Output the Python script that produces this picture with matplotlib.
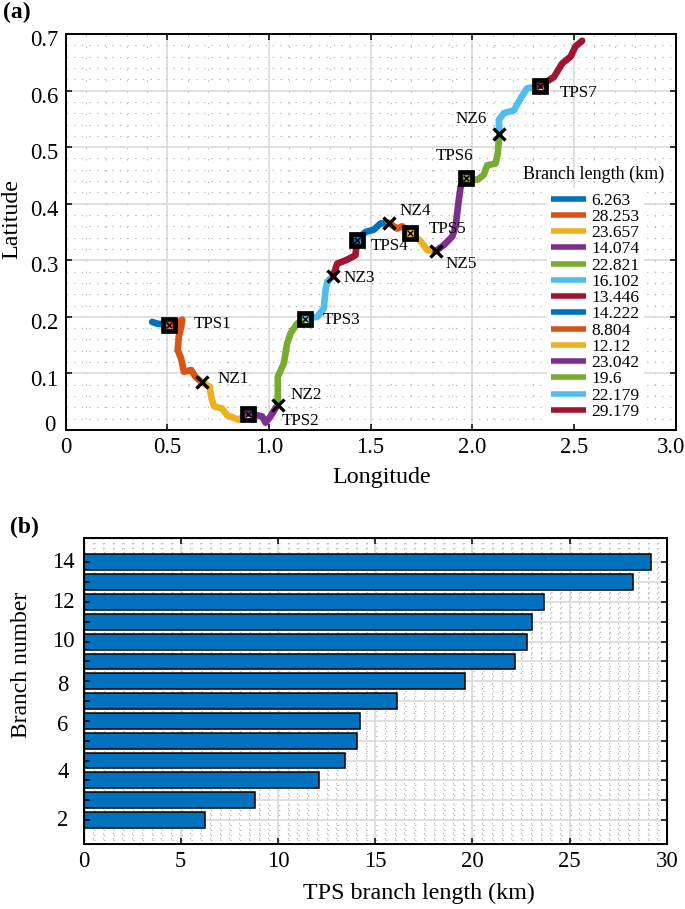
import numpy as np
import matplotlib
matplotlib.use('Agg')
import matplotlib.pyplot as plt
from matplotlib.ticker import MultipleLocator
from matplotlib.transforms import ScaledTranslation

plt.rcParams['font.family'] = ['Liberation Serif', 'DejaVu Serif']
plt.rcParams['lines.scale_dashes'] = False

# branch lengths in legend order (km)
branch_lengths = [6.263, 28.253, 23.657, 14.074, 22.821, 16.102, 13.446,
                  14.222, 8.804, 12.12, 23.042, 19.6, 22.179, 29.179]
branch_colors = ['#0072BD', '#D95319', '#EDB120', '#7E2F8E', '#77AC30', '#4DBEEE', '#A2142F',
                 '#0072BD', '#D95319', '#EDB120', '#7E2F8E', '#77AC30', '#4DBEEE', '#A2142F']

# branch traces
b1_lon = [.426, .451, .475, .508]
b1_lat = [.191, .188, .187, .185]
b2_lon = [.508, .541, .574, .569, .557, .552, .569, .582, .618, .639, .672]
b2_lat = [.185, .187, .195, .182, .165, .141, .126, .103, .106, .094, .084]
b3_lon = [.672, .710, .716, .730, .770, .795, .852, .897]
b3_lat = [.084, .076, .059, .042, .038, .026, .018, .029]
b4_lon = [.897, .943, .967, .984, 1.008, 1.044]
b4_lat = [.029, .026, .024, .013, .024, .045]
b5_lon = [1.044, 1.044, 1.044, 1.074, 1.090, 1.107, 1.139, 1.180]
b5_lat = [.045, .071, .094, .118, .153, .171, .188, .197]
b6_lon = [1.180, 1.238, 1.270, 1.279, 1.287, 1.316]
b6_lat = [.197, .200, .215, .247, .262, .272]
b7_lon = [1.316, 1.336, 1.385, 1.426, 1.434]
b7_lat = [.272, .294, .301, .309, .336]
b8_lon = [1.434, 1.475, 1.516, 1.549, 1.590]
b8_lat = [.336, .350, .354, .365, .366]
b9_lon = [1.590, 1.631, 1.656, 1.693]
b9_lat = [.366, .356, .360, .349]
b10_lon = [1.693, 1.746, 1.779, 1.820]
b10_lat = [.349, .334, .318, .316]
b11_lon = [1.820, 1.861, 1.902, 1.918, 1.934, 1.943, 1.972]
b11_lat = [.316, .327, .342, .359, .406, .430, .446]
b12_lon = [1.972, 2.025, 2.057, 2.074, 2.115, 2.126, 2.134]
b12_lat = [.446, .442, .451, .468, .471, .489, .524]
b13_lon = [2.134, 2.131, 2.156, 2.205, 2.238, 2.270, 2.333]
b13_lat = [.524, .548, .560, .565, .586, .604, .608]
b14_lon = [2.333, 2.402, 2.443, 2.484, 2.508, 2.541]
b14_lat = [.608, .624, .648, .660, .678, .688]
branches = [(b1_lon, b1_lat), (b2_lon, b2_lat), (b3_lon, b3_lat), (b4_lon, b4_lat),
            (b5_lon, b5_lat), (b6_lon, b6_lat), (b7_lon, b7_lat), (b8_lon, b8_lat),
            (b9_lon, b9_lat), (b10_lon, b10_lat), (b11_lon, b11_lat), (b12_lon, b12_lat),
            (b13_lon, b13_lat), (b14_lon, b14_lat)]

tps_lon = [.508, .897, 1.180, 1.434, 1.693, 1.972, 2.333]
tps_lat = [.185, .029, .197, .336, .349, .446, .608]
nz_lon = [.672, 1.044, 1.316, 1.590, 1.820, 2.134]
nz_lat = [.084, .045, .272, .366, .316, .524]

site_names = ['TPS1', 'NZ1', 'TPS2', 'NZ2', 'TPS3', 'NZ3', 'TPS4', 'NZ4', 'TPS5', 'NZ5', 'TPS6', 'NZ6', 'TPS7']
name_lon = [.723, .825, 1.156, 1.184, 1.356, 1.443, 1.592, 1.721, 1.877, 1.947, 1.915, 1.995, 2.525]
name_lat = [.187, .090, .016, .062, .194, .269, .325, .387, .356, .294, .484, .549, .596]

lon_ticks = [0, 0.5, 1.0, 1.5, 2.0, 2.5, 3.0]
lon_tick_labels = ['0', '0.5', '1.0', '1.5', '2.0', '2.5', '3.0']
lat_ticks = [0, 0.1, 0.2, 0.3, 0.4, 0.5, 0.6, 0.7]
lat_tick_labels = ['0', '0.1', '0.2', '0.3', '0.4', '0.5', '0.6', '0.7']

branch_number_labels = [14, 12, 10, 8, 6, 4, 2]
label_rows = [14, 12, 10, 7.8, 5.75, 3.4, 1]

W, H = 685, 909


def px_axes(left, top, right, bottom):
    return [left / W, 1 - bottom / H, (right - left) / W, (bottom - top) / H]


def style_grid(ax, hdash, vdash):
    ax.grid(True, which='major', color='#d6d6d6', linewidth=1.1)
    ax.grid(True, which='minor', axis='y', color='#b8b8b8', linewidth=0.8, linestyle=(0, hdash))
    ax.grid(True, which='minor', axis='x', color='#b8b8b8', linewidth=0.8, linestyle=(0, vdash))
    ax.tick_params(which='minor', length=0)


def style_frame(ax):
    ax.tick_params(which='major', direction='in', length=4.5, width=1.1, top=True, right=True, labelsize=16.3, pad=5)
    for s in ax.spines.values():
        s.set_linewidth(1.4)


def shift_labels(labels, dx, dy):
    for lb in labels:
        lb.set_transform(lb.get_transform() + ScaledTranslation(dx / 72, dy / 72, fig.dpi_scale_trans))


fig = plt.figure(figsize=(W / 100, H / 100), dpi=100)

# (a) map of branches
ax = fig.add_axes(px_axes(65.5, 34, 675.5, 430))
ax.set_xlim(0, 3)
ax.set_ylim(0, 0.7)
ax.set_xticks(lon_ticks, lon_tick_labels)
ax.set_yticks(lat_ticks, lat_tick_labels)
ax.xaxis.set_minor_locator(MultipleLocator(0.1))
ax.yaxis.set_minor_locator(MultipleLocator(0.02))
ax.set_axisbelow(True)
style_grid(ax, (1.0, 4.5), (1.0, 7.1))
style_frame(ax)
shift_labels(ax.get_yticklabels()[1:], 0, -3)
shift_labels(ax.get_yticklabels()[:1], -2, 5)
shift_labels(ax.get_xticklabels()[-1:], -3.6, 0)

lines = []
for (lon, lat), c, v in zip(branches, branch_colors, branch_lengths):
    ln, = ax.plot(lon, lat, color=c, lw=4.8, solid_capstyle='round', solid_joinstyle='round', label=f'{v:g}')
    lines.append(ln)

ax.plot(tps_lon, tps_lat, ls='none', marker='s', ms=8.6, mfc='none', mec='k', mew=3.4, zorder=5)
ax.plot(tps_lon, tps_lat, ls='none', marker='x', ms=5, mec='k', mew=1.0, zorder=5)
ax.plot(nz_lon, nz_lat, ls='none', marker='x', ms=9, mec='k', mew=2.4, zorder=5)

for name, x, y in zip(site_names, name_lon, name_lat):
    ax.text(x, y, name, fontsize=12.3, ha='center', va='center', zorder=6)

leg = ax.legend(handles=lines, loc='upper left', bbox_to_anchor=(547 / W, 1 - 188 / H),
                bbox_transform=fig.transFigure, borderaxespad=0, fontsize=12.6, frameon=True,
                facecolor='white', edgecolor='none', framealpha=1, fancybox=False,
                handlelength=2.0, handletextpad=0.3, labelspacing=0.0, borderpad=0.25)
for t in leg.get_lines():
    t.set_linewidth(4)
    t.set_solid_capstyle('butt')
fig.text(594 / W, 1 - 174 / H, 'Branch length (km)', fontsize=13, ha='center', va='center')

fig.text(3 / W, 1 - 12 / H, '(a)', fontsize=17, fontweight='bold', ha='left', va='center')
fig.text(382 / W, 1 - 477 / H, 'Longitude', fontsize=17.3, ha='center', va='center')
fig.text(12 / W, 1 - 219 / H, 'Latitude', fontsize=17.3, rotation=90, ha='center', va='center')

# (b) sorted branch lengths
pos_b = px_axes(83.5, 538, 667, 844)
bx = fig.add_axes(pos_b)
order = np.sort(branch_lengths)
rows = np.arange(1, len(order) + 1)
bx.barh(rows, order, height=0.8, color='#0072BD', edgecolor='k', linewidth=1.1)
bx.set_xlim(0, 30)
bx.set_ylim(-0.21, 15.23)
bx.set_xticks(np.arange(0, 31, 5))
bx.set_yticks(rows)
bx.xaxis.set_minor_locator(MultipleLocator(0.5))
bx.yaxis.set_minor_locator(MultipleLocator(0.25))
bx.set_axisbelow(True)
style_grid(bx, (1.0, 6.0), (1.0, 2.6))
bx.tick_params(which='major', length=0, labelbottom=False, labelleft=False)

# overlay keeps ticks on top of the bars, grid stays under them
over = fig.add_axes(pos_b, facecolor='none')
over.set_xlim(0, 30)
over.set_ylim(-0.21, 15.23)
over.set_xticks(np.arange(0, 31, 5))
over.set_yticks(rows)
style_frame(over)
over.set_yticklabels([])
trans = over.get_yaxis_transform()
for lab, r in zip(branch_number_labels, label_rows):
    over.text((63 - 83.5) / (667 - 83.5), r, str(lab), transform=trans, fontsize=16.3, ha='center', va='center')

fig.text(10 / W, 1 - 527 / H, '(b)', fontsize=17, fontweight='bold', ha='left', va='center')
fig.text(419 / W, 1 - 893 / H, 'TPS branch length (km)', fontsize=17.3, ha='center', va='center')
fig.text(22 / W, 1 - 665 / H, 'Branch number', fontsize=17, rotation=90, ha='center', va='center')

fig.savefig('out.png', dpi=100)
